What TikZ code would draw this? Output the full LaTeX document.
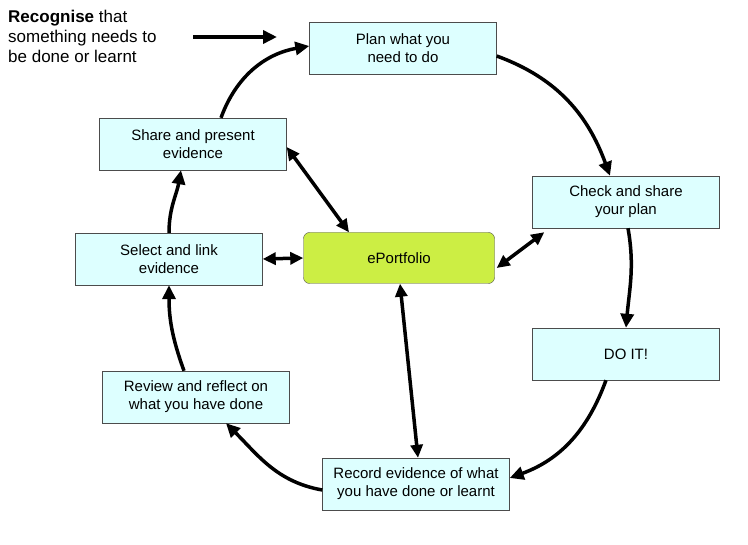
\documentclass[tikz,border=0pt]{standalone}
\usepackage{fontspec}
\setmainfont{Liberation Sans}
\usetikzlibrary{arrows.meta}
\definecolor{boxfill}{HTML}{DDFFFF}
\definecolor{portfill}{HTML}{CCEE44}
\begin{document}
\begin{tikzpicture}[x=1pt,y=-1pt,
  stage/.style={draw=black!70,fill=boxfill,minimum width=187pt,minimum height=52pt,align=center,font=\fontsize{15}{18}\selectfont,inner sep=2pt},
  flow/.style={-{Triangle[length=14pt,width=13pt]},line width=3.5pt},
  both/.style={{Triangle[length=13pt,width=12pt]}-{Triangle[length=13pt,width=12pt]},line width=3.5pt}]
\useasboundingbox (0,0) rectangle (748,545);
\node[stage] (plan) at (403,48) {Plan what you\\need to do};
\node[stage] (share) at (193,144) {Share and present\\evidence};
\node[stage] (check) at (626,202) {Check and share\\your plan};
\node[stage] (select) at (169,259) {Select and link\\evidence};
\node[stage,fill=portfill,rounded corners=6pt,minimum width=191pt,minimum height=51pt] (port) at (399,258) {ePortfolio};
\node[stage] (doit) at (626,354) {DO IT!};
\node[stage] (review) at (196,397) {Review and reflect on\\what you have done};
\node[stage] (record) at (416,484) {Record evidence of what\\you have done or learnt};
\node[anchor=north west,align=left,font=\fontsize{17}{20}\selectfont,inner sep=0pt] (rec) at (8,10) {\textbf{Recognise} that\\something needs to\\be done or learnt};
\coordinate (r1) at (193,37);
\coordinate (r2) at (277,37);
\draw[flow] (r1) -- (r2);
\draw[flow] (plan.east) ++(0,8) to[out=-20,in=110] ([xshift=-16pt]check.north);
\draw[flow] ([xshift=2pt]check.south) to[out=-80,in=85] (doit.north);
\draw[flow] ([xshift=-20pt]doit.south) to[out=-110,in=20] ([yshift=6pt]record.east);
\draw[flow] ([yshift=-6pt]record.west) to[out=170,in=-45] ([xshift=30pt]review.south);
\draw[flow] ([xshift=-12pt]review.north) to[out=110,in=-90] ([xshift=0pt]select.south);
\draw[flow] (select.north) to[out=90,in=-100] ([xshift=-12pt]share.south);
\draw[flow] ([xshift=28pt]share.north) to[out=70,in=190] ([yshift=2pt]plan.west);
\draw[both] ([yshift=-3pt]share.east) -- ([xshift=-50pt]port.north);
\draw[both] (select.east) -- (port.west);
\draw[both] ([xshift=2pt,yshift=-10pt]port.east) -- ([xshift=12pt,yshift=-4pt]check.south west);
\draw[both] ([xshift=1pt]port.south) -- ([xshift=2pt]record.north);
\end{tikzpicture}
\end{document}
